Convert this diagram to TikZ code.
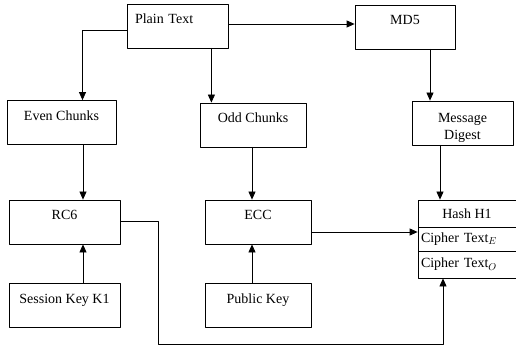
\documentclass[tikz,border=0pt]{standalone}
\usepackage{fontspec}
\setmainfont{Liberation Serif}
\usetikzlibrary{arrows.meta}

\begin{document}
\begin{tikzpicture}[
						x=1pt, y=-1pt,
						every node/.style={font=\fontsize{14}{17}\selectfont},
						blk/.style={draw, line width=0.8pt, inner sep=0pt, minimum width=#1,
							text height=20pt, text depth=24pt},
						row/.style={draw, line width=0.8pt, inner ysep=0pt, minimum height=#1},
						arr/.style={line width=0.8pt, -{Triangle[length=8pt,width=7pt]}},
						line cap=round,
						line join=round
						]
						
						\useasboundingbox (0,0) rectangle (516,347);
						
						% Top row
						\node[blk=101pt, text width=85pt, align=left, inner xsep=8pt] (plain) at (177.5,26) {Plain Text};
						\node[blk=100pt] (md5) at (405,27) {MD5};
						
						% Chunks and digest
						\node[blk=109pt] (even) at (61.5,122.5) {Even Chunks};
						\node[blk=106pt] (odd) at (253,125) {Odd Chunks};
						\node[draw, line width=0.8pt, minimum width=101pt, minimum height=44pt, inner ysep=0pt,
							align=center] (msg) at (462.5,123) {\rule{0pt}{19pt}Message\\Digest};
						
						% Ciphers
						\node[blk=111pt] (rc6) at (64.5,222) {RC6};
						\node[blk=106pt] (ecc) at (258,222) {ECC};
						
						% Output block
						\node[row=27pt, minimum width=98pt] (hash) at (467,213.5) {Hash H1};
						\node[row=24pt, text width=92pt, inner xsep=3pt, align=left] (cte) at (467,239) {Cipher Text$_E$};
						\node[row=27pt, text width=92pt, inner xsep=3pt, align=left] (cto) at (467,264.5) {Cipher Text$_O$};
						
						% Keys
						\node[blk=111pt] (session) at (64.5,305) {Session Key K1};
						\node[blk=106pt] (public) at (258,305) {Public Key};
						
						% Connectors
						\coordinate (bend) at (158,344);
						\draw[arr] ([yshift=-4pt]plain.west) -| ([xshift=21pt]even.north);
						\draw[arr] ([xshift=-17pt]plain.south east) -- ([xshift=-17pt]plain.south east |- odd.north);
						\draw[arr] ([yshift=2pt]plain.east) -- ([yshift=2pt]plain.east -| md5.west);
						\draw[arr] ([xshift=25pt]md5.south) -- ([xshift=25pt]md5.south |- msg.north);
						\draw[arr] ([xshift=21.5pt]even.south) -- ([xshift=21.5pt]even.south |- rc6.north);
						\draw[arr] ([xshift=-1pt]odd.south) -- ([xshift=-1pt]odd.south |- ecc.north);
						\draw[arr] ([xshift=-22.5pt]msg.south) -- ([xshift=-22.5pt]msg.south |- hash.north);
						\draw[arr] ([xshift=18.5pt]session.north) -- ([xshift=18.5pt]session.north |- rc6.south);
						\draw[arr] ([xshift=-6pt]public.north) -- ([xshift=-6pt]public.north |- ecc.south);
						\draw[arr] ([yshift=-10pt]ecc.east) -- ([yshift=-10pt]ecc.east -| cte.west);
						\draw[arr] ([yshift=1pt]rc6.east) -| (bend) -| ([xshift=-24pt]cto.south);
						
					\end{tikzpicture}
\end{document}
